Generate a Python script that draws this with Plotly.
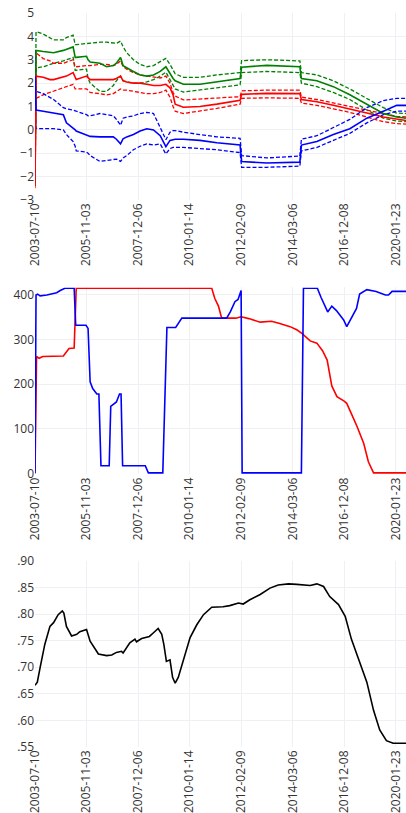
import plotly.graph_objects as go

# ---------------- data ----------------
tick_idx = [0, 100, 200, 300, 400, 500, 600, 700]
tick_dates = ["2003-07-10", "2005-11-03", "2007-12-06", "2010-01-14",
              "2012-02-09", "2014-03-06", "2016-12-08", "2020-01-23"]

# Panel 1 (shared observation index)
x_top = [0, 2, 16, 29, 36, 55, 61, 74, 78, 80, 100, 103, 107, 126, 139, 152, 158, 166,
         171, 178, 191, 204, 217, 230, 243, 254, 262, 268, 272, 288, 320, 353, 398, 401,
         450, 514, 517, 547, 579, 611, 644, 676, 702, 720]
green_mid = [-2.4, 3.4, 3.35, 3.3, 3.3, 3.4, 3.45, 3.55, 3.1, 3.1, 3.15, 3.0, 2.9, 2.85, 2.7,
             2.75, 2.85, 3.1, 2.75, 2.65, 2.5, 2.35, 2.3, 2.35, 2.5, 2.7, 2.4, 2.2, 2.1, 1.95,
             1.95, 2.05, 2.2, 2.68, 2.76, 2.7, 2.2, 2.1, 1.85, 1.5, 1.1, 0.7, 0.55, 0.5]
green_hi = [-2.4, 4.2, 4.1, 3.95, 3.85, 3.85, 3.95, 4.05, 3.65, 3.65, 3.7, 3.7, 3.7, 3.75, 3.75,
            3.7, 3.7, 3.8, 3.55, 3.3, 3.0, 2.8, 2.7, 2.75, 2.9, 3.06, 2.8, 2.55, 2.4, 2.25,
            2.25, 2.35, 2.45, 2.96, 3.0, 2.95, 2.45, 2.35, 2.1, 1.75, 1.35, 0.95, 0.72, 0.7]
green_lo = [-2.4, 2.65, 2.7, 2.8, 2.85, 2.95, 3.0, 3.1, 2.55, 2.55, 2.6, 2.2, 2.0, 1.65, 1.65,
            1.9, 2.1, 2.3, 2.1, 2.05, 2.0, 2.0, 2.05, 2.15, 2.3, 2.47, 2.15, 1.9, 1.75, 1.62,
            1.7, 1.8, 1.93, 2.45, 2.5, 2.45, 2.0, 1.85, 1.6, 1.3, 0.85, 0.5, 0.38, 0.35]
red_mid = [-2.4, 2.3, 2.25, 2.15, 2.15, 2.25, 2.3, 2.45, 2.2, 2.15, 2.3, 2.25, 2.15, 2.15, 2.15,
           2.15, 2.2, 2.3, 2.1, 2.05, 2.0, 2.0, 1.95, 1.9, 1.9, 1.95, 1.8, 1.5, 1.1, 0.97,
           1.0, 1.1, 1.27, 1.52, 1.56, 1.55, 1.3, 1.2, 1.05, 0.9, 0.72, 0.55, 0.45, 0.4]
red_hi = [-2.3, 3.3, 3.05, 2.95, 2.85, 2.85, 2.9, 3.0, 2.7, 2.7, 2.75, 2.75, 2.75, 2.8, 2.8,
          2.75, 2.8, 2.95, 2.7, 2.6, 2.45, 2.35, 2.3, 2.25, 2.22, 2.3, 2.0, 1.6, 1.45, 1.28,
          1.33, 1.38, 1.42, 1.67, 1.7, 1.7, 1.4, 1.3, 1.15, 1.0, 0.85, 0.72, 0.58, 0.55]
red_lo = [-2.5, 1.35, 1.5, 1.6, 1.65, 1.8, 1.85, 1.95, 1.75, 1.75, 1.75, 1.7, 1.6, 1.55, 1.5,
          1.55, 1.65, 1.75, 1.7, 1.7, 1.65, 1.6, 1.55, 1.55, 1.6, 1.7, 1.4, 1.0, 0.8, 0.7,
          0.8, 0.92, 1.1, 1.35, 1.37, 1.35, 1.15, 1.05, 0.9, 0.75, 0.55, 0.35, 0.27, 0.25]
blue_mid = [2.3, 0.85, 0.8, 0.75, 0.72, 0.65, 0.3, 0.1, 0.0, -0.05, -0.2, -0.25, -0.28, -0.3,
            -0.3, -0.3, -0.4, -0.6, -0.38, -0.3, -0.2, -0.05, 0.05, 0.0, -0.25, -0.72, -0.45,
            -0.4, -0.4, -0.4, -0.45, -0.55, -0.65, -1.35, -1.42, -1.38, -0.65, -0.5, -0.2,
            0.05, 0.5, 0.8, 1.05, 1.05]
blue_hi = [3.4, 1.65, 1.55, 1.4, 1.3, 0.95, 0.9, 0.85, 0.8, 0.8, 0.65, 0.6, 0.6, 0.7, 0.65,
           0.6, 0.45, 0.2, 0.5, 0.55, 0.6, 0.7, 0.75, 0.7, 0.1, -0.42, -0.1, -0.03, -0.03,
           -0.1, -0.2, -0.3, -0.36, -1.1, -1.2, -1.12, -0.4, -0.25, 0.1, 0.45, 0.95, 1.25,
           1.35, 1.35]
blue_lo = [1.2, 0.05, 0.05, 0.05, 0.05, 0.0, -0.2, -0.5, -0.7, -0.9, -0.95, -1.0, -1.1, -1.35,
           -1.3, -1.25, -1.25, -1.35, -1.2, -1.1, -0.85, -0.7, -0.6, -0.65, -0.6, -1.03,
           -0.8, -0.75, -0.75, -0.75, -0.8, -0.85, -0.97, -1.6, -1.6, -1.55, -0.9, -0.75,
           -0.45, -0.15, 0.3, 0.65, 0.8, 0.8]

# Panel 2
x_red2 = [0, 3, 8, 15, 55, 60, 66, 76, 80, 343, 349, 356, 362, 375, 390, 400, 415, 437, 450,
          459, 475, 495, 508, 518, 534, 547, 558, 567, 576, 586, 600, 605, 615, 625, 638,
          647, 657, 720]
red2 = [0, 262, 258, 262, 263, 272, 280, 281, 415, 415, 392, 375, 349, 348, 348, 351, 347,
        339, 340, 341, 336, 329, 322, 314, 297, 292, 275, 254, 196, 172, 162, 157, 131, 105,
        67, 26, 1, 1]
x_blue2 = [0, 2, 5, 10, 23, 42, 49, 58, 76, 79, 99, 103, 107, 112, 120, 124, 128, 144, 147,
           158, 164, 167, 170, 214, 220, 248, 256, 273, 285, 372, 379, 388, 394, 400, 402,
           517, 521, 548, 555, 562, 568, 576, 585, 595, 599, 605, 614, 624, 630, 644, 662,
           680, 686, 693, 720]
blue2 = [0, 400, 402, 398, 400, 405, 410, 415, 415, 332, 332, 325, 205, 190, 178, 178, 17,
         17, 150, 160, 178, 178, 17, 17, 1, 1, 327, 327, 348, 348, 362, 385, 390, 410, 1,
         1, 415, 415, 395, 378, 362, 375, 365, 350, 344, 329, 350, 370, 402, 412, 408,
         400, 400, 408, 408]

# Panel 3
x_black = [0, 4.5, 10, 19, 29, 36, 45, 53, 56, 61, 71, 81, 87, 100, 107, 116, 123, 139, 149,
           158, 168, 171, 184, 194, 197, 207, 222, 230, 239, 246, 250, 255, 262, 267, 272,
           278, 288, 301, 314, 327, 343, 356, 365, 378, 395, 404, 417, 437, 456, 472, 492,
           508, 534, 547, 560, 572, 589, 602, 614, 627, 644, 657, 669, 682, 695, 720]
black = [.666, .672, .70, .743, .777, .784, .799, .806, .802, .777, .759, .762, .767, .771,
         .749, .734, .725, .722, .723, .728, .730, .727, .746, .753, .748, .754, .758, .765,
         .773, .762, .743, .711, .714, .681, .670, .681, .712, .756, .780, .799, .813, .813,
         .814, .816, .821, .819, .827, .837, .849, .855, .857, .856, .854, .857, .852, .833,
         .818, .796, .753, .718, .672, .619, .582, .562, .557, .557]
y3_ticks = [0.55, 0.60, 0.65, 0.70, 0.75, 0.80, 0.85, 0.90]
y3_text = [".55", ".60", ".65", ".70", ".75", ".80", ".85", ".90"]

# ---------------- figure ----------------
fig = go.Figure()

def add(x, y, color, dash, ax, width=1.5):
    fig.add_trace(go.Scatter(x=x, y=y, mode="lines", xaxis="x" + ax, yaxis="y" + ax,
                             line=dict(color=color, dash=dash, width=width),
                             showlegend=False, hoverinfo="skip"))

for s, c in [(green_hi, "green"), (green_lo, "green"), (red_hi, "red"), (red_lo, "red"),
             (blue_hi, "blue"), (blue_lo, "blue")]:
    add(x_top, s, c, "4px,2px", "", 1.3)
for s, c in [(green_mid, "green"), (red_mid, "red"), (blue_mid, "blue")]:
    add(x_top, s, c, "solid", "", 1.6)

add(x_red2, red2, "red", "solid", "2", 1.6)
add(x_blue2, blue2, "blue", "solid", "2", 1.6)
add(x_black, black, "black", "solid", "3", 1.6)

grid = "#EEF0F4"
xcommon = dict(tickmode="array", tickvals=tick_idx, ticktext=tick_dates, tickangle=-90,
               range=[0, 720], showgrid=True, gridcolor=grid, zeroline=False,
               showline=False, ticks="", tickfont=dict(size=12, color="#333"))
ycommon = dict(showgrid=True, gridcolor=grid, showline=False, ticks="",
               tickfont=dict(size=12, color="#333"))

H = 734.0
fig.update_layout(
    template="plotly_white",
    width=406, height=813,
    margin=dict(l=35, r=0, t=13, b=66),
    font=dict(family="Open Sans, sans-serif"),
    plot_bgcolor="white", paper_bgcolor="white",
    xaxis=dict(anchor="y", **xcommon),
    yaxis=dict(anchor="x", domain=[547 / H, 1.0], range=[-3, 5], dtick=1,
               zeroline=True, zerolinecolor=grid, zerolinewidth=1, **ycommon),
    xaxis2=dict(anchor="y2", **xcommon),
    yaxis2=dict(anchor="x2", domain=[272.8 / H, 459.6 / H], range=[-2, 417],
                tickvals=[0, 100, 200, 300, 400], zeroline=False, **ycommon),
    xaxis3=dict(anchor="y3", **xcommon),
    yaxis3=dict(anchor="x3", domain=[0, 186 / H], range=[0.55, 0.90],
                tickmode="array", tickvals=y3_ticks, ticktext=y3_text,
                zeroline=False, **ycommon),
)

fig.write_html("out.html",
               config={"displayModeBar": False},
               post_script="document.body.style.margin='0';"
                           "document.body.style.overflow='hidden';"
                           "document.documentElement.style.overflow='hidden';")
